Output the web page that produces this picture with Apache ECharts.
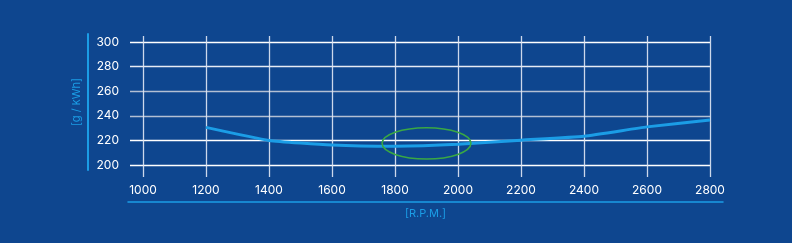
<!DOCTYPE html>
<html><head><meta charset="utf-8">
<script src="https://cdn.jsdelivr.net/npm/echarts@6/dist/echarts.min.js"></script>
<style>html,body{margin:0;padding:0;background:#0e468f}#c{width:792px;height:243px}</style>
</head><body><div id="c"></div>
<script>
const rpm = [1200, 1400, 1600, 1800, 2000, 2200, 2400, 2600, 2800];
const consumption = [230.6, 220, 216.3, 215.3, 216.8, 220.2, 223.4, 231, 236.5];
const xTicks = [1000, 1200, 1400, 1600, 1800, 2000, 2200, 2400, 2600, 2800];
const yTicks = [200, 220, 240, 260, 280, 300];
const highlight = [[1900, 217.6, 141, 12.7]]; // center rpm, center g/kWh, half-width rpm, half-height g/kWh

const FONT = 'Inter';
const BLUE = '#1b9de6';
const plain = v => String(v);
const chart = echarts.init(document.getElementById('c'), null, {renderer: 'canvas'});
chart.setOption({
  backgroundColor: '#0e468f',
  animation: false,
  grid: [
    {left: 143, right: 82, top: 42, bottom: 78},
    {left: 130, right: 82, top: 42, bottom: 78},
    {left: 143, right: 82, top: 36, bottom: 66},
    {left: 128, right: 69, top: 30, bottom: 41},
    {left: 88, right: 600, top: 34, bottom: 73}
  ],
  xAxis: [
    {gridIndex: 0, type: 'value', min: xTicks[0], max: xTicks[xTicks.length-1], interval: 200,
      axisLine: {show: false}, axisTick: {show: false}, splitLine: {show: false},
      axisLabel: {color: '#ffffff', fontFamily: FONT, fontSize: 12, margin: 19, formatter: plain}},
    {gridIndex: 1, type: 'value', show: false},
    {gridIndex: 2, type: 'value', min: xTicks[0], max: xTicks[xTicks.length-1], interval: 200,
      axisLine: {show: false}, axisTick: {show: false}, axisLabel: {show: false},
      splitLine: {show: true, lineStyle: {color: 'rgba(225,232,245,0.9)', width: 1.3}}},
    {gridIndex: 3, type: 'value', min: 0, max: 1,
      axisLine: {show: true, lineStyle: {color: BLUE, width: 1.5}},
      axisTick: {show: false}, axisLabel: {show: false}, splitLine: {show: false},
      name: '[R.P.M.]', nameLocation: 'middle', nameGap: 6,
      nameTextStyle: {color: BLUE, fontFamily: FONT, fontSize: 11}},
    {gridIndex: 4, type: 'value', show: false}
  ],
  yAxis: [
    {gridIndex: 0, type: 'value', min: yTicks[0], max: yTicks[yTicks.length-1], interval: 20,
      axisLine: {show: false}, axisTick: {show: false}, splitLine: {show: false},
      axisLabel: {color: '#ffffff', fontFamily: FONT, fontSize: 12, margin: 24, formatter: plain}},
    {gridIndex: 1, type: 'value', min: yTicks[0], max: yTicks[yTicks.length-1], interval: 20,
      axisLine: {show: false}, axisTick: {show: false}, axisLabel: {show: false},
      splitLine: {show: true, lineStyle: {width: 1.3,
        color: ['#ffffff', '#ffffff', '#b3bfd3', '#b3bfd3', '#e6ebf4', '#ffffff']}}},
    {gridIndex: 2, type: 'value', show: false},
    {gridIndex: 3, type: 'value', show: false},
    {gridIndex: 4, type: 'value', min: 0, max: 1,
      axisLine: {show: true, lineStyle: {color: BLUE, width: 2}},
      axisTick: {show: false}, axisLabel: {show: false}, splitLine: {show: false},
      name: '[g / kWh]', nameLocation: 'middle', nameGap: 6, nameRotate: 90,
      nameTextStyle: {color: BLUE, fontFamily: FONT, fontSize: 11}}
  ],
  series: [
    {type: 'line', xAxisIndex: 0, yAxisIndex: 0, data: rpm.map((r, i) => [r, consumption[i]]),
      showSymbol: false, smooth: 0.15, lineStyle: {color: BLUE, width: 3}, z: 5},
    {type: 'custom', xAxisIndex: 0, yAxisIndex: 0, data: highlight, z: 6,
      renderItem: function (params, api) {
        const c = api.coord([api.value(0), api.value(1)]);
        const e = api.coord([api.value(0) + api.value(2), api.value(1) + api.value(3)]);
        return {type: 'ellipse', shape: {cx: c[0], cy: c[1], rx: Math.abs(e[0]-c[0]), ry: Math.abs(c[1]-e[1])},
          style: {fill: 'none', stroke: '#3aa844', lineWidth: 1.6}};
      }}
  ]
});
</script></body></html>
